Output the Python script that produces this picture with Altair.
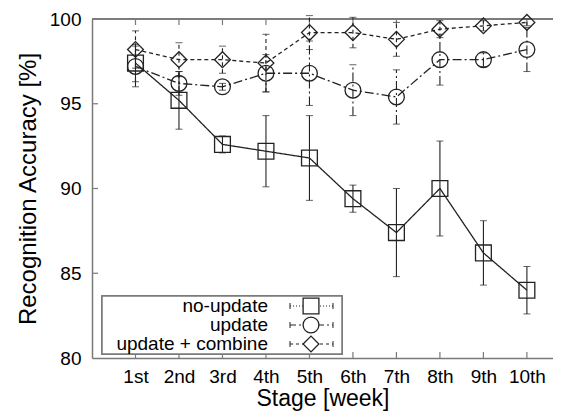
import altair as alt
import pandas as pd

stage_idx = [1, 2, 3, 4, 5, 6, 7, 8, 9, 10]
stage_labels = ["1st", "2nd", "3rd", "4th", "5th", "6th", "7th", "8th", "9th", "10th"]

series_names = ["no-update", "update", "update + combine"]

no_update_mean = [97.4, 95.2, 92.6, 92.2, 91.8, 89.4, 87.4, 90.0, 86.2, 84.0]
no_update_err = [1.1, 1.7, 0.5, 2.1, 2.5, 0.8, 2.6, 2.8, 1.9, 1.4]

update_mean = [97.2, 96.2, 96.0, 96.8, 96.8, 95.8, 95.4, 97.6, 97.6, 98.2]
update_err = [1.2, 0.7, 0.2, 1.1, 1.9, 1.5, 1.6, 1.5, 0.4, 1.3]

combine_mean = [98.2, 97.6, 97.6, 97.4, 99.2, 99.2, 98.8, 99.4, 99.6, 99.8]
combine_err = [1.1, 1.0, 0.8, 1.7, 1.0, 0.9, 1.0, 0.5, 0.3, 0.2]

y_ticks = [80, 85, 90, 95, 100]
inner_ticks = [85, 90, 95]

W, H = 461, 339
FONT = "Liberation Sans"
INK = "#222222"
FRAME = "#7a7a7a"
X_TITLE = "Stage [week]"
Y_TITLE = "Recognition Accuracy [%]"

means = [no_update_mean, update_mean, combine_mean]
errs = [no_update_err, update_err, combine_err]
shapes = ["square", "circle", "diamond"]
line_dash = [[1, 0], [9, 3, 2, 3], [4, 3]]
legend_dash = [[1, 2], [6, 3, 2, 3], [3, 3]]
legend_rows = [287, 306, 325]

x_scale = alt.Scale(domain=[0, 10.6], nice=False, zero=False)
y_scale = alt.Scale(domain=[80, 100], nice=False, zero=False)

label_expr = "[" + ",".join("'%s'" % s for s in stage_labels) + "][datum.value - 1]"

x_axis = alt.Axis(values=stage_idx, labelExpr=label_expr,
                  ticks=False, grid=False, domainColor=FRAME, domainWidth=1.5,
                  labelFontSize=19, labelFont=FONT, labelColor="black", labelPadding=9,
                  titleFontSize=23, titleFont=FONT, titleFontWeight="normal",
                  titleColor="black", titlePadding=1)
y_axis = alt.Axis(values=y_ticks,
                  ticks=False, grid=False, domainColor=FRAME, domainWidth=1.5,
                  labelFontSize=19, labelFont=FONT, labelColor="black", labelPadding=11,
                  titleFontSize=24, titleFont=FONT, titleFontWeight="normal",
                  titleColor="black", titlePadding=9)


def X(field, **kw):
    return alt.X(field, scale=x_scale, title=X_TITLE, **kw)


def Y(field, **kw):
    return alt.Y(field, scale=y_scale, title=Y_TITLE, **kw)


stage_df = pd.DataFrame({"idx": stage_idx, "label": stage_labels})
tick_df = pd.DataFrame({"v": inner_ticks})

layers = []

# axes carrier + bottom inward ticks
layers.append(
    alt.Chart(stage_df).mark_rule(color=FRAME, strokeWidth=1.2).encode(
        x=X("idx:Q", axis=x_axis),
        y=alt.value(H), y2=alt.value(H - 6))
)
# top inward ticks
layers.append(
    alt.Chart(stage_df).mark_rule(color=FRAME, strokeWidth=1.2).encode(
        x=X("idx:Q"), y=alt.value(0), y2=alt.value(6))
)
# left inward ticks
layers.append(
    alt.Chart(tick_df).mark_rule(color=FRAME, strokeWidth=1.2).encode(
        y=Y("v:Q", axis=y_axis), x=alt.value(0), x2=alt.value(6))
)
# top frame line
layers.append(
    alt.Chart(tick_df).mark_rule(color=FRAME, strokeWidth=1.5).encode(
        x=alt.value(0), x2=alt.value(W), y=alt.value(0))
)

for name, m, e, shp, dash in zip(series_names, means, errs, shapes, line_dash):
    df = pd.DataFrame({
        "idx": stage_idx,
        "mean": m,
        "lo": [a - b for a, b in zip(m, e)],
        "hi": [a + b for a, b in zip(m, e)],
    })
    base = alt.Chart(df)
    layers.append(
        base.mark_errorbar(ticks={"size": 7, "color": INK, "strokeWidth": 1.1},
                           rule={"strokeDash": dash, "color": INK, "strokeWidth": 1.1}).encode(
            x=X("idx:Q"), y=Y("lo:Q"), y2="hi:Q")
    )
    layers.append(
        base.mark_line(color=INK, strokeWidth=1.3, strokeDash=dash).encode(
            x=X("idx:Q"), y=Y("mean:Q"))
    )
    layers.append(
        base.mark_point(shape=shp, size=250, filled=False, color=INK, strokeWidth=1.3, opacity=1).encode(
            x=X("idx:Q"), y=Y("mean:Q"))
    )

# legend box
legend_df = pd.DataFrame({"name": series_names})
layers.append(
    alt.Chart(legend_df).mark_rect(fill="white", stroke=FRAME, strokeWidth=1.5).encode(
        x=alt.value(10), x2=alt.value(250), y=alt.value(277), y2=alt.value(335))
)
for name, shp, dash, ry in zip(series_names, shapes, legend_dash, legend_rows):
    ldf = pd.DataFrame({"name": [name]})
    lb = alt.Chart(ldf)
    layers.append(
        lb.mark_text(align="right", baseline="middle", fontSize=19, font=FONT, color="black").encode(
            text="name:N", x=alt.value(176), y=alt.value(ry))
    )
    layers.append(
        lb.mark_rule(color=INK, strokeWidth=1.0, strokeDash=dash).encode(
            x=alt.value(198), x2=alt.value(241), y=alt.value(ry))
    )
    layers.append(
        lb.mark_rule(color=INK, strokeWidth=1.0).encode(
            x=alt.value(198), y=alt.value(ry - 3), y2=alt.value(ry + 3))
    )
    layers.append(
        lb.mark_rule(color=INK, strokeWidth=1.0).encode(
            x=alt.value(241), y=alt.value(ry - 3), y2=alt.value(ry + 3))
    )
    layers.append(
        lb.mark_point(shape=shp, size=250, filled=False, color=INK, strokeWidth=1.3, opacity=1,
                      fill="white").encode(x=alt.value(219), y=alt.value(ry))
    )

chart = alt.layer(*layers).properties(
    width=W, height=H,
    autosize=alt.AutoSizeParams(type="none"),
    padding={"left": 84, "top": 11, "right": 0, "bottom": 53},
).configure_view(stroke=None)

chart.save("out.html", embed_options={"renderer": "svg", "actions": False})
